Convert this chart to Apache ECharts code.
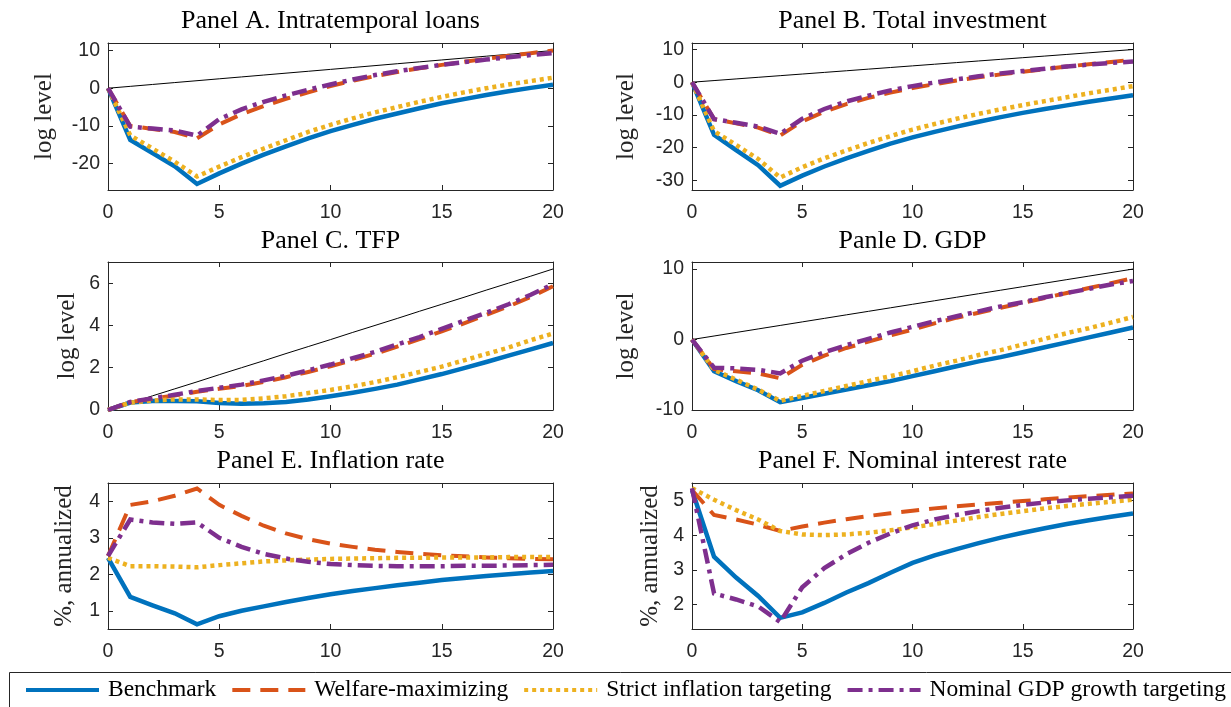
<!DOCTYPE html>
<html>
<head>
<meta charset="utf-8">
<script src="https://cdn.jsdelivr.net/npm/echarts@6/dist/echarts.min.js"></script>
<style>html,body{margin:0;padding:0;background:#fff;}#c{width:1231px;height:707px;}</style>
</head>
<body>
<div id="c"></div>
<script>
// ---------- data ----------
const quarters = [0,1,2,3,4,5,6,7,8,9,10,11,12,13,14,15,16,17,18,19,20];
const seriesNames = ['Benchmark','Welfare-maximizing','Strict inflation targeting','Nominal GDP growth targeting'];
const panelTitles = ['Panel A. Intratemporal loans','Panel B. Total investment','Panel C. TFP','Panle D. GDP','Panel E. Inflation rate','Panel F. Nominal interest rate'];
const yNames = ['log level','log level','log level','log level','%, annualized','%, annualized'];

// Panel A
const trendA = [0,0.5,1,1.5,2,2.5,3,3.5,4,4.5,5,5.5,6,6.5,7,7.5,8,8.5,9,9.5,10];
const benchA = [0,-13.7,-17.2,-20.7,-25.4,-22.6,-20.0,-17.6,-15.4,-13.3,-11.4,-9.7,-8.1,-6.7,-5.3,-4.0,-2.9,-1.8,-0.8,0.1,0.9];
const welfA  = [0,-10.0,-10.8,-11.6,-13.3,-9.6,-6.9,-4.7,-2.8,-1.1,0.6,2.0,3.2,4.3,5.3,6.2,7.0,7.8,8.6,9.3,10.0];
const strictA= [0,-12.5,-16.0,-19.5,-23.4,-20.8,-18.3,-16.0,-13.8,-11.6,-9.7,-8.0,-6.4,-5.0,-3.6,-2.3,-1.1,0.0,1.0,1.9,2.8];
const ngdpA  = [0,-10.2,-10.7,-11.2,-12.6,-8.2,-5.6,-3.6,-1.9,-0.4,1.0,2.3,3.5,4.5,5.4,6.2,6.9,7.6,8.2,8.8,9.3];
// Panel B
const trendB = [0,0.5,1,1.5,2,2.5,3,3.5,4,4.5,5,5.5,6,6.5,7,7.5,8,8.5,9,9.5,10];
const benchB = [0,-16.1,-20.8,-25.4,-31.7,-28.6,-25.8,-23.3,-21.0,-18.8,-16.9,-15.2,-13.6,-12.1,-10.7,-9.4,-8.2,-7.1,-6.0,-5.0,-4.0];
const welfB  = [0,-11.3,-12.6,-13.9,-16.3,-12.0,-9.0,-6.7,-4.8,-3.2,-1.8,-0.6,0.5,1.5,2.4,3.2,4.0,4.8,5.5,6.2,6.9];
const strictB= [0,-15.0,-19.2,-23.5,-29.2,-26.0,-23.3,-20.9,-18.6,-16.5,-14.5,-12.8,-11.2,-9.7,-8.3,-7.0,-5.8,-4.6,-3.4,-2.3,-1.2];
const ngdpB  = [0,-11.3,-12.4,-13.6,-15.8,-11.2,-8.2,-5.9,-4.1,-2.5,-1.2,-0.1,0.9,1.8,2.7,3.4,4.1,4.8,5.4,5.9,6.3];
// Panel C
const trendC = [0,0.33,0.67,1,1.33,1.67,2,2.33,2.67,3,3.33,3.67,4,4.33,4.67,5,5.33,5.67,6,6.33,6.67];
const benchC = [0,0.35,0.42,0.42,0.41,0.33,0.30,0.32,0.38,0.50,0.65,0.82,1.00,1.20,1.45,1.70,1.98,2.27,2.57,2.87,3.17];
const welfC  = [0,0.37,0.53,0.69,0.86,1.00,1.14,1.33,1.55,1.80,2.07,2.36,2.66,3.00,3.35,3.72,4.10,4.50,4.90,5.35,5.85];
const strictC= [0,0.35,0.45,0.50,0.50,0.47,0.48,0.55,0.65,0.80,0.95,1.12,1.32,1.55,1.80,2.05,2.35,2.65,2.95,3.30,3.62];
const ngdpC  = [0,0.38,0.55,0.72,0.90,1.05,1.20,1.40,1.62,1.88,2.15,2.45,2.75,3.10,3.45,3.84,4.22,4.60,5.00,5.45,5.95];
// Panel D
const trendD = [0,0.5,1,1.5,2,2.5,3,3.5,4,4.5,5,5.5,6,6.5,7,7.5,8,8.5,9,9.5,10];
const benchD = [0,-4.5,-5.9,-7.2,-8.9,-8.3,-7.7,-7.1,-6.5,-5.9,-5.2,-4.5,-3.8,-3.1,-2.5,-1.8,-1.1,-0.4,0.3,1.0,1.7];
const welfD  = [0,-4.2,-4.5,-4.8,-5.5,-3.6,-2.3,-1.2,-0.3,0.6,1.4,2.3,3.1,3.8,4.5,5.2,5.9,6.6,7.3,8.0,8.7];
const strictD= [0,-4.3,-5.7,-7.1,-8.7,-8.0,-7.3,-6.6,-5.9,-5.2,-4.5,-3.7,-3.0,-2.2,-1.5,-0.7,0.1,0.9,1.6,2.4,3.2];
const ngdpD  = [0,-4.0,-4.1,-4.3,-4.8,-3.0,-1.8,-0.8,0.1,1.0,1.8,2.6,3.3,4.0,4.7,5.3,6.0,6.6,7.2,7.8,8.3];
// Panel E
const benchE = [2.45,1.38,1.15,0.93,0.63,0.85,1.00,1.12,1.24,1.35,1.45,1.54,1.62,1.70,1.77,1.84,1.90,1.95,2.00,2.05,2.09];
const welfE  = [2.50,3.90,4.00,4.15,4.35,3.90,3.60,3.33,3.12,2.96,2.84,2.75,2.67,2.61,2.56,2.52,2.49,2.46,2.44,2.42,2.41];
const strictE= [2.45,2.22,2.22,2.21,2.19,2.25,2.30,2.35,2.38,2.40,2.42,2.43,2.44,2.45,2.45,2.46,2.46,2.46,2.47,2.47,2.47];
const ngdpE  = [2.50,3.50,3.42,3.38,3.42,3.00,2.75,2.56,2.43,2.34,2.28,2.25,2.23,2.22,2.22,2.22,2.23,2.23,2.24,2.25,2.26];
// Panel F
const benchF = [5.30,3.38,2.78,2.25,1.62,1.78,2.05,2.35,2.62,2.92,3.20,3.42,3.60,3.77,3.93,4.07,4.20,4.32,4.43,4.53,4.62];
const welfF  = [5.30,4.58,4.45,4.30,4.12,4.25,4.36,4.46,4.55,4.63,4.70,4.77,4.83,4.88,4.93,4.98,5.03,5.08,5.12,5.16,5.20];
const strictF= [5.35,5.02,4.72,4.45,4.12,4.02,4.00,4.02,4.07,4.14,4.22,4.32,4.42,4.52,4.61,4.69,4.77,4.84,4.90,4.96,5.02];
const ngdpF  = [5.35,2.32,2.15,1.95,1.50,2.50,3.05,3.45,3.78,4.05,4.28,4.45,4.58,4.69,4.79,4.87,4.94,5.00,5.05,5.09,5.13];

// tick labels
const xTicks = [0,5,10,15,20];
const yTicksA = [-20,-10,0,10];
const yTicksB = [-30,-20,-10,0,10];
const yTicksC = [0,2,4,6];
const yTicksD = [-10,0,10];
const yTicksE = [1,2,3,4];
const yTicksF = [2,3,4,5];
const yRanges = [[-27,12],[-33,12],[0,7],[-10,11],[0.5,4.5],[1.3,5.5]];

// ---------- build ----------
const panelData = [
  {trend: trendA, s: [benchA, welfA, strictA, ngdpA], ticks: yTicksA},
  {trend: trendB, s: [benchB, welfB, strictB, ngdpB], ticks: yTicksB},
  {trend: trendC, s: [benchC, welfC, strictC, ngdpC], ticks: yTicksC},
  {trend: trendD, s: [benchD, welfD, strictD, ngdpD], ticks: yTicksD},
  {trend: null,   s: [benchE, welfE, strictE, ngdpE], ticks: yTicksE},
  {trend: null,   s: [benchF, welfF, strictF, ngdpF], ticks: yTicksF}
];
const gridBoxes = [
  {left:108, top:43,  width:445, height:147},
  {left:692, top:43,  width:441, height:147},
  {left:108, top:262, width:445, height:148},
  {left:692, top:262, width:441, height:148},
  {left:108, top:483, width:445, height:146},
  {left:692, top:483, width:441, height:146}
];
const nameGaps = [51,53,28,53,31,29];
const titleTops = [8,8,228,228,448,448];
const colors = ['#0072BD','#D95319','#EDB120','#7E2F8E'];
const styles = [
  {type:'solid', width:4.5},
  {type:[18,10], width:4},
  {type:[4,4], width:4.5},
  {type:[15,6,4,6], width:4.5}
];
const AX = '#262626';

const grid = [], xAxis = [], yAxis = [], series = [], title = [];
gridBoxes.forEach((g, i) => {
  grid.push(Object.assign({containLabel:false}, g));
  title.push({
    text: panelTitles[i], left: g.left + g.width/2, top: titleTops[i], textAlign: 'center', padding: 0,
    textStyle: {fontFamily: 'Liberation Serif', fontSize: 26, fontWeight: 'normal', color: '#000'}
  });
  const tickCommon = {show:true, inside:true, length:5, lineStyle:{color:AX, width:1}};
  xAxis.push({
    gridIndex:i, type:'value', min:0, max:20, position:'bottom',
    axisLine:{show:true, onZero:false, lineStyle:{color:AX, width:1}},
    axisTick:Object.assign({customValues:xTicks}, tickCommon),
    axisLabel:{customValues:xTicks, color:AX, fontFamily:'Liberation Sans', fontSize:19.5, margin:13},
    splitLine:{show:false}
  });
  xAxis.push({
    gridIndex:i, type:'value', min:0, max:20, position:'top',
    axisLine:{show:true, onZero:false, lineStyle:{color:AX, width:1}},
    axisTick:Object.assign({customValues:xTicks}, tickCommon),
    axisLabel:{show:false}, splitLine:{show:false}
  });
  const yr = yRanges[i];
  const tk = panelData[i].ticks;
  yAxis.push({
    gridIndex:i, type:'value', min:yr[0], max:yr[1], position:'left',
    name: yNames[i], nameLocation:'middle', nameGap:nameGaps[i], nameRotate:90,
    nameTextStyle:{fontFamily:'Liberation Serif', fontSize:25, color:AX},
    axisLine:{show:true, onZero:false, lineStyle:{color:AX, width:1}},
    axisTick:Object.assign({customValues:tk}, tickCommon),
    axisLabel:{customValues:tk, color:AX, fontFamily:'Liberation Sans', fontSize:19.5, margin:8},
    splitLine:{show:false}
  });
  yAxis.push({
    gridIndex:i, type:'value', min:yr[0], max:yr[1], position:'right',
    axisLine:{show:true, onZero:false, lineStyle:{color:AX, width:1}},
    axisTick:Object.assign({customValues:tk}, tickCommon),
    axisLabel:{show:false}, splitLine:{show:false}
  });
  const pd = panelData[i];
  if (pd.trend) {
    series.push({
      name:'trend', type:'line', xAxisIndex:2*i, yAxisIndex:2*i,
      data: quarters.map((q,k)=>[q, pd.trend[k]]),
      symbol:'none', lineStyle:{color:'#000', width:1}, itemStyle:{color:'#000'}, z:2, silent:true
    });
  }
  pd.s.forEach((arr, j) => {
    series.push({
      name: seriesNames[j], type:'line', xAxisIndex:2*i, yAxisIndex:2*i,
      data: quarters.map((q,k)=>[q, arr[k]]),
      symbol:'none', clip:true,
      lineStyle:{color:colors[j], width:styles[j].width, type:styles[j].type, cap:'butt', join:'miter'},
      itemStyle:{color:colors[j]}, z:3+j
    });
  });
});

const option = {
  animation:false,
  backgroundColor:'#fff',
  title: title,
  grid: grid, xAxis: xAxis, yAxis: yAxis, series: series,
  legend: {
    data: seriesNames, left: 24, top: 678, padding: 0, itemGap: 14,
    itemWidth: 73, itemHeight: 14,
    itemStyle: {opacity: 0, borderWidth: 0},
    lineStyle: {width: 4},
    textStyle:{fontFamily:'Liberation Serif', fontSize:23.5, color:'#000', padding:[0,0,0,4]},
    selectedMode:false
  },
  graphic: [{
    type:'rect', shape:{x:9.5, y:672.5, width:1260, height:60},
    style:{fill:'none', stroke:AX, lineWidth:1}, silent:true
  }]
};
const chart = echarts.init(document.getElementById('c'), null, {renderer:'canvas'});
chart.setOption(option);
</script>
</body>
</html>
